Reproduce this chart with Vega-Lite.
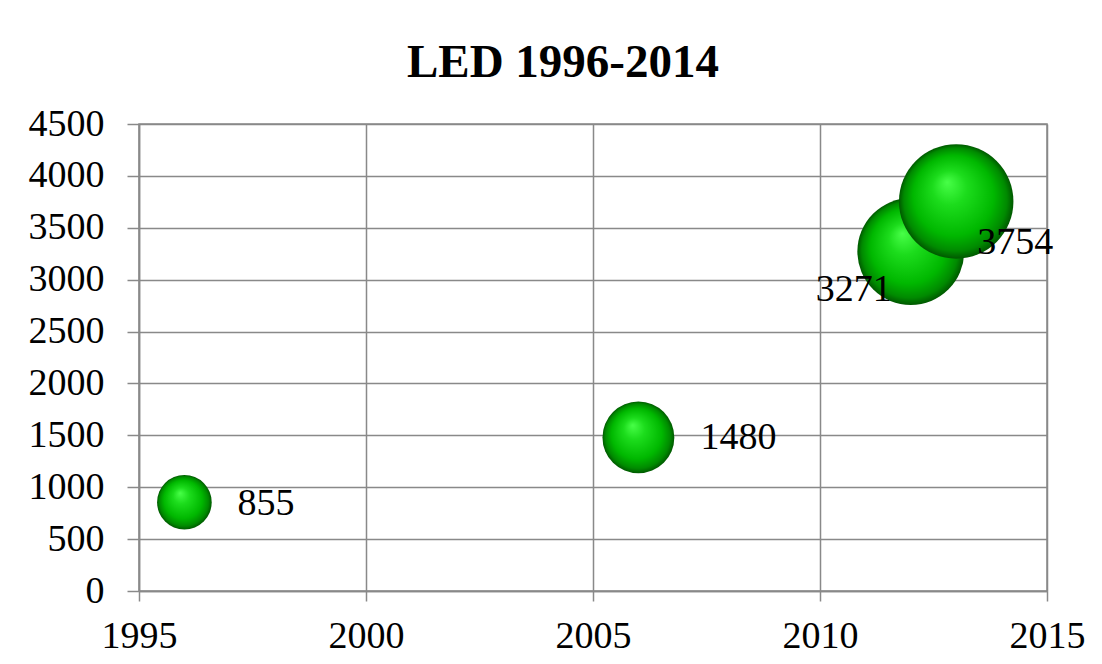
{
  "$schema": "https://vega.github.io/schema/vega-lite/v6.json",
  "autosize": "none",
  "width": 908,
  "height": 467,
  "padding": {"left": 139, "top": 124, "right": 55, "bottom": 73},
  "background": "white",
  "title": {
    "text": "LED 1996-2014",
    "font": "Liberation Serif",
    "fontSize": 47,
    "fontWeight": "bold",
    "color": "black",
    "anchor": "middle",
    "dx": -30,
    "offset": 18
  },
  "config": {
    "view": {"stroke": "#898989", "strokeWidth": 1.5},
    "axis": {
      "labelFont": "Liberation Serif",
      "labelFontSize": 38,
      "labelColor": "black",
      "gridColor": "#898989",
      "gridWidth": 1.5,
      "gridOpacity": 1,
      "domainColor": "#898989",
      "domainWidth": 1.5,
      "tickColor": "#898989",
      "tickWidth": 1.5,
      "title": null
    }
  },
  "data": {
    "values": [
      {"year": 1996, "value": 855},
      {"year": 2006, "value": 1480},
      {"year": 2012, "value": 3271},
      {"year": 2013, "value": 3754}
    ]
  },
  "encoding": {
    "x": {
      "field": "year", "type": "quantitative",
      "scale": {"domain": [1995, 2015], "nice": false, "zero": false},
      "axis": {"values": [1995, 2000, 2005, 2010, 2015], "format": "d", "tickSize": 10, "labelPadding": 16, "labelBaseline": "top", "labelFlush": false}
    },
    "y": {
      "field": "value", "type": "quantitative",
      "scale": {"domain": [0, 4500], "nice": false},
      "axis": {"values": [0, 500, 1000, 1500, 2000, 2500, 3000, 3500, 4000, 4500], "format": "d", "tickSize": 12, "labelPadding": 23, "labelBaseline": "middle"}
    }
  },
  "layer": [
    {
      "mark": {
        "type": "circle",
        "opacity": 1,
        "fill": {
          "gradient": "radial",
          "x1": 0.42, "y1": 0.33, "r1": 0,
          "x2": 0.5, "y2": 0.5, "r2": 0.5,
          "stops": [
            {"offset": 0, "color": "#48ff48"},
            {"offset": 0.3, "color": "#1cdc1c"},
            {"offset": 0.7, "color": "#00b800"},
            {"offset": 0.9, "color": "#008a00"},
            {"offset": 1, "color": "#005800"}
          ]
        }
      },
      "encoding": {
        "size": {"field": "value", "type": "quantitative", "scale": {"domain": [0, 3754], "range": [0, 13100]}, "legend": null}
      }
    },
    {
      "transform": [{"filter": "datum.year == 1996"}],
      "mark": {"type": "text", "font": "Liberation Serif", "fontSize": 38, "align": "left", "baseline": "middle", "dx": 53, "dy": 2, "color": "black"},
      "encoding": {"text": {"field": "value", "type": "quantitative", "format": "d"}}
    },
    {
      "transform": [{"filter": "datum.year == 2006"}],
      "mark": {"type": "text", "font": "Liberation Serif", "fontSize": 38, "align": "left", "baseline": "middle", "dx": 62, "dy": 1, "color": "black"},
      "encoding": {"text": {"field": "value", "type": "quantitative", "format": "d"}}
    },
    {
      "transform": [{"filter": "datum.year == 2012"}],
      "mark": {"type": "text", "font": "Liberation Serif", "fontSize": 38, "align": "right", "baseline": "middle", "dx": -19, "dy": 38, "color": "black"},
      "encoding": {"text": {"field": "value", "type": "quantitative", "format": "d"}}
    },
    {
      "transform": [{"filter": "datum.year == 2013"}],
      "mark": {"type": "text", "font": "Liberation Serif", "fontSize": 38, "align": "left", "baseline": "middle", "dx": 21, "dy": 42, "color": "black"},
      "encoding": {"text": {"field": "value", "type": "quantitative", "format": "d"}}
    }
  ]
}
